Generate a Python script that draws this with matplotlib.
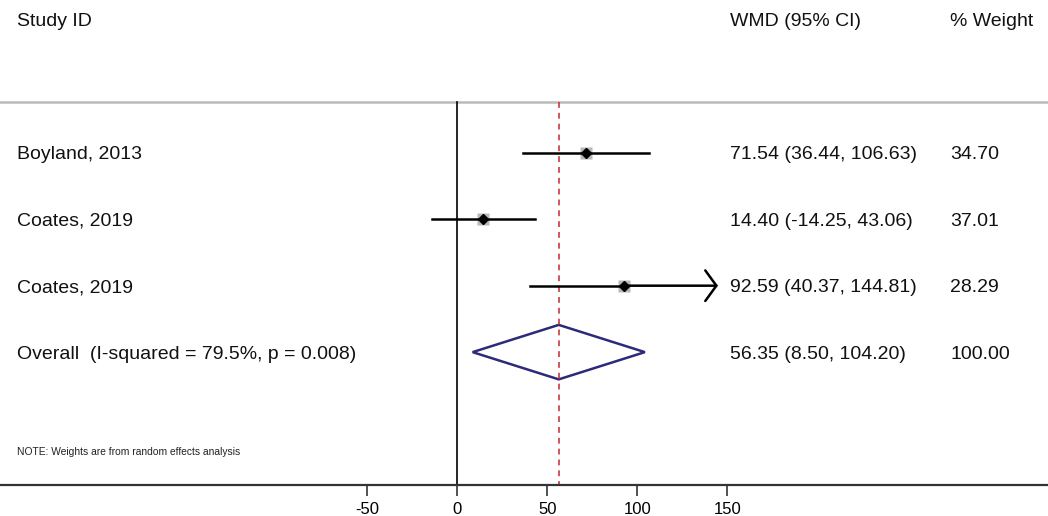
import matplotlib.pyplot as plt
import matplotlib.transforms as mtransforms
import numpy as np

plt.rcParams['font.family'] = ['Liberation Sans', 'DejaVu Sans']

studies = ['Boyland, 2013', 'Coates, 2019', 'Coates, 2019']
wmd = [71.54, 14.40, 92.59]
ci_low = [36.44, -14.25, 40.37]
ci_high = [106.63, 43.06, 144.81]
weights = [34.70, 37.01, 28.29]
overall_label = 'Overall  (I-squared = 79.5%, p = 0.008)'
overall = 56.35
overall_low = 8.50
overall_high = 104.20
overall_weight = 100.00
xticks = [-50, 0, 50, 100, 150]

fig = plt.figure(figsize=(10.48, 5.16), dpi=100)
ax = fig.add_axes([0, 31 / 516, 1, 485 / 516])
ax.set_xlim(-254.1, 328.2)
ax.set_ylim(6.0, -1.30)

for s in ['top', 'left', 'right']:
    ax.spines[s].set_visible(False)
ax.spines['bottom'].set_color('#333333')
ax.spines['bottom'].set_linewidth(1.6)
ax.set_yticks([])
ax.set_xticks(xticks)
ax.set_xticklabels([str(t) for t in xticks])
ax.tick_params(axis='x', length=8, width=1.2, color='#333333', labelsize=12, pad=4)

rows = np.arange(1, len(studies) + 1)
overall_row = len(studies) + 1
top_line = 0.233

# header separator
ax.axhline(top_line, color='#bbbbbb', lw=1.8)
# null line and overall effect line
ax.plot([0, 0], [top_line, 6.0], color='black', lw=1.2)
ax.plot([overall, overall], [top_line, 6.0], color='#c8393f', lw=1.2, ls=(0, (3.5, 3)))

for r, est, lo, hi, w in zip(rows, wmd, ci_low, ci_high, weights):
    ax.plot(est, r, marker='s', ms=9.0 * np.sqrt(w / 35), color='#b8b8b8', mec='none', zorder=2)
    if hi > 140:
        ax.plot([lo, est], [r, r], color='black', lw=1.8, zorder=3)
        ax.annotate('', xy=(hi, r), xytext=(est, r),
                    arrowprops=dict(arrowstyle='->,head_length=0.8,head_width=1.1',
                                    color='black', lw=1.8, shrinkA=0, shrinkB=0), zorder=3)
    else:
        ax.plot([lo, hi], [r, r], color='black', lw=1.8, zorder=3)
    ax.plot(est, r, marker='D', ms=5.5, color='black', zorder=4)

# pooled diamond
ax.fill([overall_low, overall, overall_high, overall, overall_low],
        [overall_row, overall_row - 0.41, overall_row, overall_row + 0.41, overall_row],
        facecolor='none', edgecolor='#2b2b7a', lw=1.8)

trans = mtransforms.blended_transform_factory(ax.transAxes, ax.transData)
txt = dict(transform=trans, fontsize=14, va='center_baseline', color='#111111')
ax.text(17 / 1048, -1.0, 'Study ID', **txt)
ax.text(730 / 1048, -1.0, 'WMD (95% CI)', **txt)
ax.text(950 / 1048, -1.0, '% Weight', **txt)

for r, name, est, lo, hi, w in zip(rows, studies, wmd, ci_low, ci_high, weights):
    ax.text(17 / 1048, r, name, **txt)
    ax.text(730 / 1048, r, f'{est:.2f} ({lo:.2f}, {hi:.2f})', **txt)
    ax.text(950 / 1048, r, f'{w:.2f}', **txt)

ax.text(17 / 1048, overall_row, overall_label, **txt)
ax.text(730 / 1048, overall_row, f'{overall:.2f} ({overall_low:.2f}, {overall_high:.2f})', **txt)
ax.text(950 / 1048, overall_row, f'{overall_weight:.2f}', **txt)

ax.text(17 / 1048, 5.5, 'NOTE: Weights are from random effects analysis',
        transform=trans, fontsize=7.4, va='center', color='#222222')

fig.savefig('out.png', dpi=100, facecolor='white')
